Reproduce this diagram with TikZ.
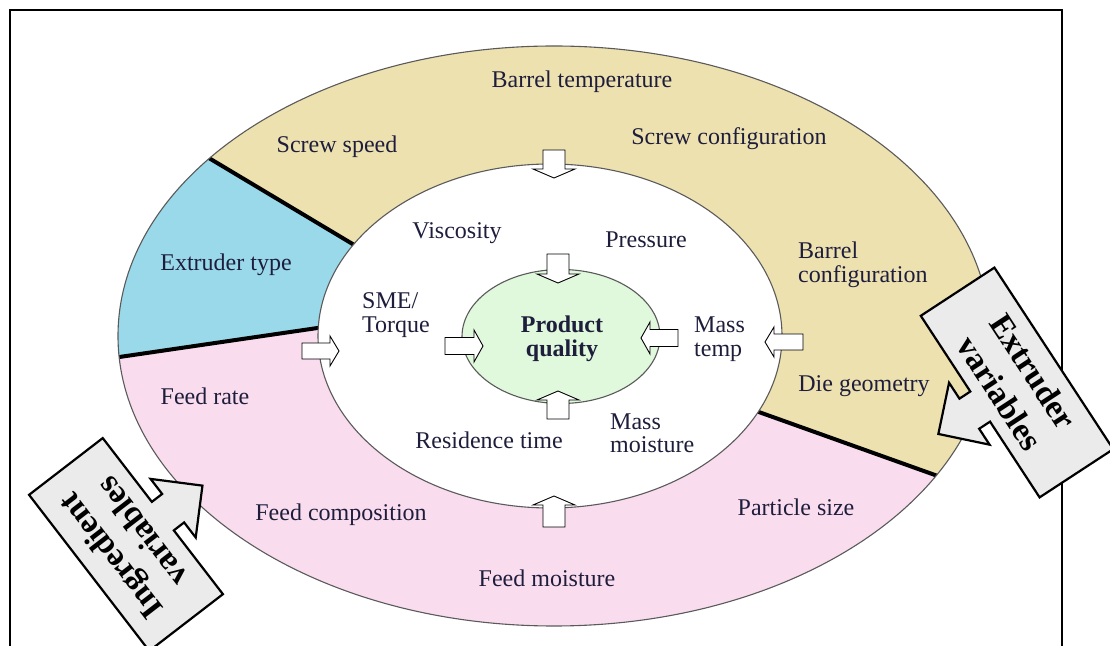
\documentclass[tikz,border=0pt]{standalone}
\usepackage{fontspec}
\setmainfont{Liberation Serif}
\definecolor{labelink}{HTML}{1E1E3C}
\definecolor{tanband}{HTML}{EDE1B0}
\definecolor{blueband}{HTML}{9AD9EA}
\definecolor{pinkband}{HTML}{FADCEF}
\definecolor{coregreen}{HTML}{E0F8DC}
\definecolor{notegray}{HTML}{EBEBEB}
\definecolor{rimgray}{HTML}{5A5A5A}

% small white block arrow: #1 tip, #2 direction, #3 length, #4 shaft width, #5 head width
\newcommand{\flowarrow}[5]{%
  \begin{scope}[shift={#1}, rotate=#2]
    \draw[flowshape] (0,0) -- (-9,{#5/2}) -- (-9,{#4/2}) -- ({-#3},{#4/2})
      -- ({-#3},{-#4/2}) -- (-9,{-#4/2}) -- (-9,{-#5/2}) -- cycle;
  \end{scope}}

% grey callout box with an arrow on its lower side:
% #1 centre, #2 angle, #3 length, #4 depth, #5 name, #6 text
\newcommand{\notearrow}[6]{%
  \begin{scope}[shift={#1}, rotate=#2]
    \draw[noteshape] ({-#3/2},{#4/2}) -- ({#3/2},{#4/2}) -- ({#3/2},{-#4/2})
      -- (18,{-#4/2}) -- (18,{-#4/2-13}) -- (37,{-#4/2-13}) -- (0,{-#4/2-50})
      -- (-37,{-#4/2-13}) -- (-18,{-#4/2-13}) -- (-18,{-#4/2}) -- ({-#3/2},{-#4/2}) -- cycle;
  \end{scope}
  \node[notetext, rotate=#2] (#5) at #1 {#6};}

\begin{document}
\begin{tikzpicture}[x=1pt, y=1pt,
  label/.style={font=\fontsize{24}{23.5}\selectfont, text=labelink, inner sep=0pt},
  leftlabel/.style={label, align=left, anchor=west},
  notetext/.style={font=\fontsize{33}{40}\selectfont\bfseries, text=black, align=center, inner sep=0pt},
  divider/.style={line width=4pt, black},
  rim/.style={draw=rimgray, line width=1.1pt},
  flowshape/.style={draw=black, fill=white, line width=0.9pt, line join=miter},
  noteshape/.style={draw=black, fill=notegray, line width=2.2pt, line join=miter}]

\useasboundingbox (0,0) rectangle (1110,645);
\clip (0,0) rectangle (1110,645);

% outer frame
\draw[line width=2.5pt] (10,-20) rectangle (1062,635);

% outer ring split into three bands
\begin{scope}
  \clip (554,309) ellipse [x radius=436, y radius=290];
  \fill[tanband] (0,0) rectangle (1110,645);
  \fill[blueband] (50,582) -- (371,390) -- (550,309) -- (338,320) -- (0,270.5) -- (0,645) -- cycle;
  \fill[pinkband] (0,270.5) -- (338,320) -- (550,309) -- (742,239) -- (1110,107.4)
    -- (1110,0) -- (0,0) -- cycle;
  \draw[divider] (371,390) -- (50,582);
  \draw[divider] (338,320) -- (0,270.5);
  \draw[divider] (742,239) -- (1110,107.4);
\end{scope}
\draw[rim] (554,309) ellipse [x radius=436, y radius=290];

% process ring and core
\filldraw[rim, fill=white] (550,309) ellipse [x radius=232, y radius=172];
\filldraw[rim, fill=coregreen] (561,308.5) ellipse [x radius=99, y radius=67];

% arrows into the process ring
\flowarrow{(554,467)}{-90}{28}{22}{42}
\flowarrow{(554,149)}{90}{31}{22}{42}
\flowarrow{(339,294)}{0}{37}{16}{30}
\flowarrow{(765,303)}{180}{38}{16}{30}

% arrows into the core
\flowarrow{(558,362)}{-90}{29}{22}{42}
\flowarrow{(558,254)}{90}{28}{22}{42}
\flowarrow{(483,299)}{0}{38}{17}{32}
\flowarrow{(641,307)}{180}{37}{17}{32}

% extruder band labels
\node[label] (bt) at (582,563) {Barrel temperature};
\node[label] (ss) at (337,498) {Screw speed};
\node[label] (sc) at (729,506) {Screw configuration};
\node[leftlabel] (bc) at (798,380) {Barrel\\configuration};
\node[label] (dg) at (864,259) {Die geometry};
\node[label] (et) at (226,380) {Extruder type};

% ingredient band labels
\node[label] (fr) at (205,249) {Feed rate};
\node[label] (fc) at (341,130) {Feed composition};
\node[label] (fm) at (547,67) {Feed moisture};
\node[label] (ps) at (796,138) {Particle size};

% process ring labels
\node[label] (vi) at (457,412) {Viscosity};
\node[label] (pr) at (646,405) {Pressure};
\node[leftlabel] (sme) at (362,330) {SME/\\Torque};
\node[leftlabel] (mt) at (694,306) {Mass\\temp};
\node[label] (rt) at (489,205) {Residence time};
\node[leftlabel] (mm) at (610,211.5) {Mass\\moisture};

% core
\node[label, align=center, font=\fontsize{24}{23.5}\selectfont\bfseries] (pq) at (562,306) {Product\\quality};

% callouts
\notearrow{(1017,262.5)}{-56.8}{217}{88}{ev}{Extruder\\variables}
\notearrow{(126,100.5)}{127.6}{197}{93}{iv}{Ingredient\\variables}

\end{tikzpicture}
\end{document}
